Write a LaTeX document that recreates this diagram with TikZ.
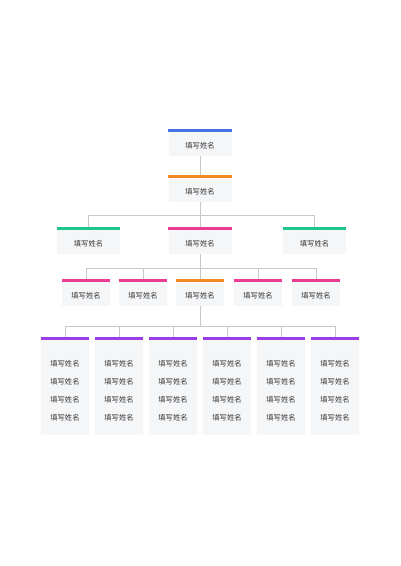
\documentclass[tikz,border=0pt]{standalone}
\usepackage{fontspec}
\newfontfamily\cjk{Noto Sans CJK SC}
\usetikzlibrary{positioning}
\definecolor{barblue}{HTML}{4472E6}
\definecolor{barorange}{HTML}{F18A22}
\definecolor{barpink}{HTML}{EC3B93}
\definecolor{bargreen}{HTML}{1EC68C}
\definecolor{barpurple}{HTML}{9A3DE8}
\definecolor{cellgray}{HTML}{F5F6F8}
\definecolor{linegray}{HTML}{C8C8C8}
\definecolor{textgray}{HTML}{333333}

\begin{document}
\begin{tikzpicture}[x=1pt,y=-1pt]
  \tikzset{cell/.style = {shape=rectangle,fill=cellgray,minimum width=63pt,minimum height=27pt,inner sep=0pt,text height=11pt,text depth=0pt,font=\cjk\fontsize{7.3}{8}\selectfont,text=textgray}}
  \tikzset{scell/.style = {cell,minimum width=48pt}}
  \tikzset{lcell/.style = {shape=rectangle,fill=cellgray,minimum width=48pt,minimum height=98pt,inner sep=0pt}}
  \tikzset{ltext/.style = {inner sep=0pt,align=center,font=\cjk\fontsize{7.3}{18}\selectfont,text=textgray}}
  \tikzset{bar/.style = {line width=3pt}}
  \tikzset{link/.style = {draw=linegray,line width=0.7pt}}
  \useasboundingbox (0,0) rectangle (400,566);

	\node[cell] (T) at (200,142.5) {填写姓名};
	\node[cell] (H) at (200,188.5) {填写姓名};

	\node[cell] (D1) at (88.5,240.5) {填写姓名};
	\node[cell] (D2) at (200,240.5) {填写姓名};
	\node[cell] (D3) at (314.5,240.5) {填写姓名};

    \foreach \i/\x in {1/86,2/143,3/200,4/258,5/316}
    \node[scell] (G\i) at (\x,292.5) {填写姓名};

    \foreach \i/\x in {1/65,2/119,3/173,4/227,5/281,6/335}
    {
    \node[lcell] (S\i) at (\x,386) {};
    \node[ltext] (N\i) at ([yshift=-5pt]S\i.center) {填写姓名\\填写姓名\\填写姓名\\填写姓名};
    }

    \draw[link] (T.south) -- (H.north);
    \draw[link] (H.south) -- (D2.north);
    \foreach \to in {D1,D3}
    \draw[link] (H.south) -- ++(0,13) -| (\to.north);
    \draw[link] (D2.south) -- (G3.north);
    \foreach \to in {G1,G2,G4,G5}
    \draw[link] (D2.south) -- ++(0,14) -| (\to.north);
    \foreach \to in {S1,S2,S3,S4,S5,S6}
    \draw[link] (G3.south) -- ++(0,20) -| (\to.north);

    \foreach \n/\c in {T/barblue,H/barorange,D1/bargreen,D2/barpink,D3/bargreen,G1/barpink,G2/barpink,G3/barorange,G4/barpink,G5/barpink,S1/barpurple,S2/barpurple,S3/barpurple,S4/barpurple,S5/barpurple,S6/barpurple}
    \draw[bar,draw=\c] ([yshift=-1.5pt]\n.north west) -- ([yshift=-1.5pt]\n.north east);

\end{tikzpicture}
\end{document}
